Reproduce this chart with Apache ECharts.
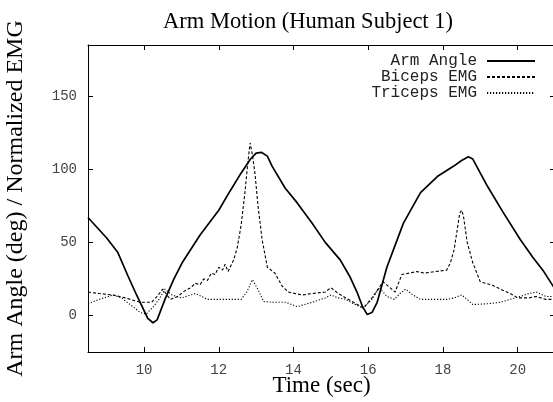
<!DOCTYPE html>
<html>
<head>
<meta charset="utf-8">
<script src="https://cdn.jsdelivr.net/npm/echarts@6/dist/echarts.min.js"></script>
<style>
  html, body { margin: 0; padding: 0; background: #fff; }
  #chart { width: 553px; height: 402px; }
</style>
</head>
<body>
<div id="chart"></div>
<script>
// [time (sec), value] pairs
const armAngle = [
  [8.5, 67], [8.75, 60], [9.0, 53], [9.3, 43], [9.57, 27], [9.8, 14], [9.95, 6],
  [10.1, -2], [10.24, -5], [10.35, -3], [10.56, 11], [10.8, 25], [11.02, 36],
  [11.5, 55], [12.0, 72], [12.3, 85], [12.6, 97.5], [12.85, 107], [13.0, 111],
  [13.15, 111.5], [13.3, 109], [13.43, 102], [13.78, 87], [14.1, 77], [14.5, 63],
  [14.85, 50], [15.25, 38], [15.5, 27], [15.7, 16], [15.85, 6], [15.97, 0.7],
  [16.1, 2], [16.24, 9], [16.5, 33], [16.94, 63], [17.4, 84], [17.85, 95],
  [18.28, 102], [18.5, 106], [18.68, 108.5], [18.8, 107], [19.2, 88], [19.6, 71],
  [20.07, 52], [20.4, 40], [20.7, 30], [21.0, 18]
];

const bicepsEmg = [
  [8.5, 16], [8.8, 15], [9.17, 14], [9.5, 12], [9.9, 9], [10.2, 9], [10.35, 13],
  [10.5, 18], [10.7, 11], [10.9, 13], [11.1, 17], [11.25, 19], [11.37, 22],
  [11.5, 21], [11.6, 25], [11.7, 24], [11.8, 29], [11.9, 28], [12.0, 33],
  [12.1, 31], [12.17, 35], [12.25, 30], [12.4, 38], [12.5, 47],
  [12.6, 62], [12.7, 84], [12.78, 105], [12.84, 118], [12.9, 110], [12.97, 97],
  [13.05, 75], [13.16, 52], [13.3, 33], [13.5, 29], [13.7, 20], [13.86, 16],
  [14.23, 14], [14.5, 15], [14.85, 16], [15.0, 19], [15.2, 15], [15.4, 12],
  [15.87, 5], [16.1, 12], [16.4, 23], [16.72, 16], [16.9, 28], [17.1, 29],
  [17.3, 30], [17.5, 29], [17.8, 30], [18.1, 31], [18.2, 36], [18.3, 45], [18.45, 70],
  [18.5, 72], [18.55, 68], [18.65, 50], [18.8, 36], [19.0, 23], [19.3, 21],
  [19.54, 18], [19.8, 15], [20.0, 12], [20.3, 12], [20.5, 13], [20.75, 11], [21.0, 11]
];

const tricepsEmg = [
  [8.5, 8], [8.8, 11], [9.17, 14], [9.4, 12], [9.7, 6], [9.9, 2], [10.06, 1],
  [10.25, 6], [10.4, 11], [10.56, 18], [10.75, 14], [11.0, 12], [11.37, 15],
  [11.7, 11], [12.0, 11], [12.25, 11], [12.6, 11], [12.75, 16], [12.9, 24.5],
  [13.05, 17.7], [13.2, 9.5], [13.5, 9], [13.8, 9], [14.1, 6], [14.5, 9],
  [14.85, 12], [15.0, 14], [15.2, 12], [15.4, 11], [15.6, 8], [15.87, 5],
  [16.1, 11], [16.3, 19], [16.5, 13], [16.7, 11], [16.85, 15], [17.0, 18],
  [17.2, 14], [17.4, 11], [17.8, 11], [18.1, 11], [18.3, 12], [18.5, 14],
  [18.65, 11], [18.8, 7.5], [19.2, 8], [19.54, 9], [19.8, 11], [20.07, 13],
  [20.3, 15], [20.5, 16], [20.75, 13], [21.0, 13]
];

const xTicks = [10, 12, 14, 16, 18, 20];
const yTicks = [0, 50, 100, 150];

const monoFont = '"Liberation Mono", "DejaVu Sans Mono", monospace';
const serifFont = '"Liberation Serif", "DejaVu Serif", serif';

const chart = echarts.init(document.getElementById('chart'));

const frameAxis = {
  axisLine: { show: true, onZero: false, lineStyle: { color: '#000', width: 1 } },
  splitLine: { show: false }
};

const option = {
  animation: false,
  backgroundColor: '#fff',
  title: {
    text: 'Arm Motion (Human Subject 1)',
    left: 303,
    top: 6,
    textAlign: 'center',
    textStyle: { fontFamily: serifFont, fontSize: 22.5, fontWeight: 'normal', color: '#000' }
  },
  legend: {
    orient: 'vertical',
    align: 'right',
    right: 12,
    top: 48,
    itemWidth: 48,
    itemHeight: 10,
    itemGap: 0,
    itemStyle: { opacity: 0 },
    textStyle: { fontFamily: monoFont, fontSize: 16, lineHeight: 13, color: '#222', padding: [0, 5, 0, 0] },
    data: ['Arm Angle', 'Biceps EMG', 'Triceps EMG']
  },
  grid: { left: 88, top: 45, width: 467, height: 307, containLabel: false, outerBoundsMode: 'none' },
  xAxis: [
    {
      ...frameAxis,
      type: 'value',
      min: 8.5,
      max: 21,
      position: 'bottom',
      name: 'Time (sec)',
      nameLocation: 'middle',
      nameGap: 22,
      nameMoveOverlap: false,
      nameTextStyle: { fontFamily: serifFont, fontSize: 23, color: '#000' },
      axisTick: { inside: true, length: 5, customValues: xTicks, lineStyle: { color: '#000' } },
      axisLabel: { customValues: xTicks, margin: 11, fontFamily: monoFont, fontSize: 14, color: '#444' }
    },
    {
      ...frameAxis,
      type: 'value',
      min: 8.5,
      max: 21,
      position: 'top',
      axisTick: { inside: true, length: 5, customValues: xTicks, lineStyle: { color: '#000' } },
      axisLabel: { show: false }
    }
  ],
  yAxis: [
    {
      ...frameAxis,
      type: 'value',
      min: -25,
      max: 185,
      position: 'left',
      name: 'Arm Angle (deg) / Normalized EMG',
      nameLocation: 'middle',
      nameRotate: 90,
      nameGap: 60,
      nameTextStyle: { fontFamily: serifFont, fontSize: 24, color: '#000' },
      axisTick: { inside: true, length: 5, customValues: yTicks, lineStyle: { color: '#000' } },
      axisLabel: { customValues: yTicks, margin: 11, fontFamily: monoFont, fontSize: 14, color: '#444' }
    },
    {
      ...frameAxis,
      type: 'value',
      min: -25,
      max: 185,
      position: 'right',
      axisTick: { inside: true, length: 5, customValues: yTicks, lineStyle: { color: '#000' } },
      axisLabel: { show: false }
    }
  ],
  series: [
    {
      name: 'Arm Angle',
      type: 'line',
      data: armAngle,
      symbol: 'none',
      color: '#000',
      lineStyle: { color: '#000', width: 1.7, type: 'solid' }
    },
    {
      name: 'Biceps EMG',
      type: 'line',
      data: bicepsEmg,
      symbol: 'none',
      color: '#000',
      lineStyle: { color: '#000', width: 1.1, type: [3, 2] }
    },
    {
      name: 'Triceps EMG',
      type: 'line',
      data: tricepsEmg,
      symbol: 'none',
      color: '#000',
      lineStyle: { color: '#000', width: 1.1, type: [1.2, 1.8] }
    }
  ]
};

chart.setOption(option);
</script>
</body>
</html>
